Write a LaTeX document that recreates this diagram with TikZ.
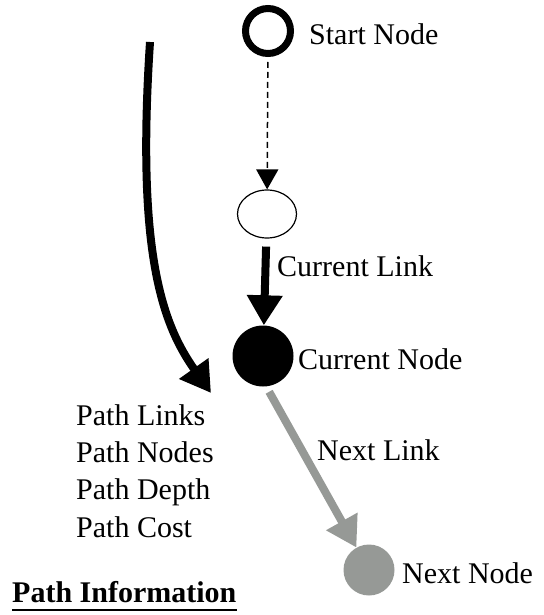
\documentclass[tikz,border=0pt]{standalone}
\usepackage{fontspec}
\setmainfont{Liberation Serif}
\usetikzlibrary{arrows.meta,shapes.geometric}
\definecolor{linkgray}{RGB}{150,153,150}

\begin{document}
\begin{tikzpicture}[x=1pt,y=1pt,yscale=-1,
  lbl/.style={anchor=base west,inner sep=0pt,font=\fontsize{30}{36}\selectfont},
  bigtip/.style={-{Triangle[length=30pt,width=34pt]}}]

\useasboundingbox (0,0) rectangle (543,615);

% the nodes of the path
\node [circle,draw,line width=7,minimum size=45,inner sep=0pt] (start) at (268,31) {};
\node [ellipse,draw,line width=1.2,minimum width=59,minimum height=48,inner sep=0pt] (prev) at (267,214) {};
\node [circle,fill=black,minimum size=61,inner sep=0pt] (cur) at (263,356) {};
\node [circle,fill=linkgray,minimum size=51,inner sep=0pt] (next) at (369,570) {};

% links
\draw [dash pattern={on 6pt off 4pt},line width=1.5,-{Triangle[length=20pt,width=22pt]},shorten <=5pt] (start) -- (prev);
\draw [line width=8,bigtip,shorten <=8pt] (prev) -- (cur);
\draw [color=linkgray,line width=8,bigtip,shorten <=6pt] (cur.-84) -- (next);

% path information arrow
\coordinate (top) at (150,42);
\coordinate (tip) at (211,393);
\draw [line width=8,bigtip] (top) .. controls (136,255) and (163,325) .. (tip);

\node [lbl] (startlbl) at (309,45) {Start Node};
\node [lbl] (curlink) at (277,276) {Current Link};
\node [lbl] (curlbl) at (298,369) {Current Node};
\node [lbl] (nextlink) at (317,460) {Next Link};
\node [lbl] (nextlbl) at (402,583) {Next Node};

\node [lbl] (links) at (76,425) {Path Links};
\node [lbl] (nodes) at (76,462) {Path Nodes};
\node [lbl] (depth) at (76,499) {Path Depth};
\node [lbl] (cost) at (76,537) {Path Cost};

\node [lbl,font=\fontsize{30}{36}\selectfont\bfseries] (info) at (12,602) {Path Information};
\draw [line width=2.5] ([yshift=8pt]info.base west) -- ([yshift=8pt]info.base east);
\end{tikzpicture}
\end{document}
